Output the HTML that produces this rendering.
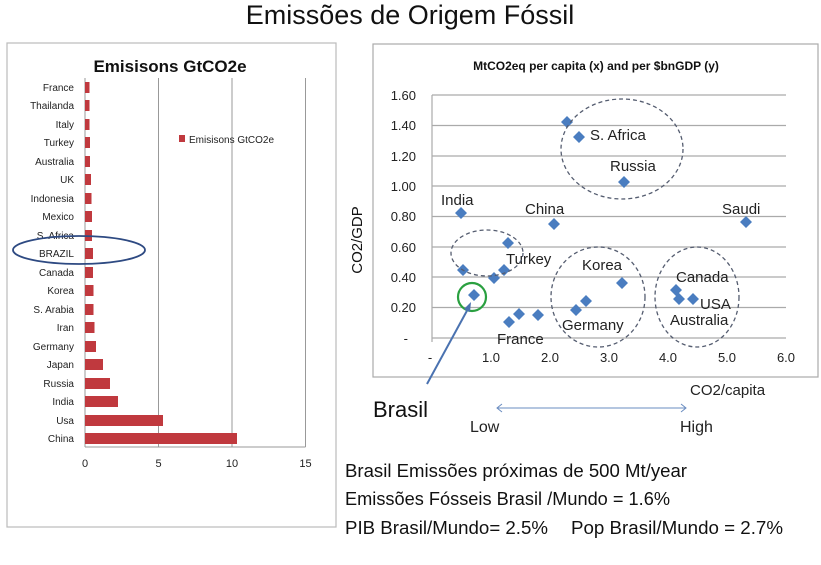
<!DOCTYPE html>
<html><head><meta charset="utf-8"><style>
body{margin:0;background:#fff;}
svg{display:block;font-family:"Liberation Sans",sans-serif;}
</style></head><body>
<svg width="821" height="565" viewBox="0 0 821 565" xmlns="http://www.w3.org/2000/svg">
<rect width="821" height="565" fill="#fff"/>
<text x="410" y="24" font-size="27" text-anchor="middle" fill="#111">Emissões de Origem Fóssil</text>
<rect x="7" y="43" width="329" height="484" fill="#fff" stroke="#bbb" stroke-width="1.2"/>
<text x="170" y="72" font-size="17" font-weight="bold" text-anchor="middle" fill="#111">Emisisons GtCO2e</text>
<g stroke="#999" stroke-width="1">
<line x1="158.5" y1="78" x2="158.5" y2="447"/>
<line x1="232" y1="78" x2="232" y2="447"/>
<line x1="305.5" y1="78" x2="305.5" y2="447"/>
<line x1="85" y1="78" x2="85" y2="447"/>
<line x1="85" y1="447" x2="305.5" y2="447"/>
</g>
<g font-size="10" fill="#222" text-anchor="end">
<text x="74" y="91">France</text><text x="74" y="109">Thailanda</text><text x="74" y="128">Italy</text><text x="74" y="146">Turkey</text><text x="74" y="165">Australia</text><text x="74" y="183">UK</text><text x="74" y="202">Indonesia</text><text x="74" y="220">Mexico</text><text x="74" y="239">S. Africa</text><text x="74" y="257">BRAZIL</text><text x="74" y="276">Canada</text><text x="74" y="294">Korea</text><text x="74" y="313">S. Arabia</text><text x="74" y="331">Iran</text><text x="74" y="350">Germany</text><text x="74" y="368">Japan</text><text x="74" y="387">Russia</text><text x="74" y="405">India</text><text x="74" y="424">Usa</text><text x="74" y="442">China</text>
</g>
<g fill="#c0393e">
<rect x="85" y="82" width="4.5" height="11"/><rect x="85" y="100" width="4.5" height="11"/><rect x="85" y="119" width="4.5" height="11"/><rect x="85" y="137" width="5" height="11"/><rect x="85" y="156" width="5" height="11"/><rect x="85" y="174" width="6" height="11"/><rect x="85" y="193" width="6.5" height="11"/><rect x="85" y="211" width="7" height="11"/><rect x="85" y="230" width="7" height="11"/><rect x="85" y="248" width="8" height="11"/><rect x="85" y="267" width="8" height="11"/><rect x="85" y="285" width="8.5" height="11"/><rect x="85" y="304" width="8.5" height="11"/><rect x="85" y="322" width="9.5" height="11"/><rect x="85" y="341" width="11" height="11"/><rect x="85" y="359" width="18" height="11"/><rect x="85" y="378" width="25" height="11"/><rect x="85" y="396" width="33" height="11"/><rect x="85" y="415" width="78" height="11"/><rect x="85" y="433" width="152" height="11"/>
</g>
<g font-size="11" fill="#222" text-anchor="middle">
<text x="85" y="467">0</text><text x="158.5" y="467">5</text><text x="232" y="467">10</text><text x="305.5" y="467">15</text>
</g>
<rect x="179" y="135" width="6" height="7" fill="#c0393e"/>
<text x="189" y="143" font-size="10" fill="#222">Emisisons GtCO2e</text>
<ellipse cx="79" cy="250" rx="66" ry="14" fill="none" stroke="#2e4a82" stroke-width="1.8"/>
<rect x="373" y="44" width="445" height="333" fill="#fff" stroke="#aaa" stroke-width="1.2"/>
<text x="596" y="70" font-size="12" font-weight="bold" text-anchor="middle" fill="#111">MtCO2eq per capita (x) and per $bnGDP (y)</text>
<g stroke="#aaa" stroke-width="1.2">
<line x1="432" y1="95" x2="786" y2="95"/><line x1="432" y1="125.5" x2="786" y2="125.5"/><line x1="432" y1="156" x2="786" y2="156"/><line x1="432" y1="186" x2="786" y2="186"/><line x1="432" y1="216.5" x2="786" y2="216.5"/><line x1="432" y1="247" x2="786" y2="247"/><line x1="432" y1="277" x2="786" y2="277"/><line x1="432" y1="307.5" x2="786" y2="307.5"/><line x1="432" y1="338" x2="786" y2="338"/>
<line x1="432" y1="95" x2="432" y2="342"/>
</g>
<g font-size="13" fill="#222" text-anchor="end">
<text x="416" y="100">1.60</text><text x="416" y="130">1.40</text><text x="416" y="161">1.20</text><text x="416" y="191">1.00</text><text x="416" y="221">0.80</text><text x="416" y="252">0.60</text><text x="416" y="282">0.40</text><text x="416" y="312">0.20</text><text x="408" y="343">-</text>
</g>
<g font-size="13" fill="#222" text-anchor="middle">
<text x="430" y="362">-</text><text x="491" y="362">1.0</text><text x="550" y="362">2.0</text><text x="609" y="362">3.0</text><text x="668" y="362">4.0</text><text x="727" y="362">5.0</text><text x="786" y="362">6.0</text>
</g>
<text transform="translate(362,240) rotate(-90)" font-size="15" text-anchor="middle" fill="#111">CO2/GDP</text>
<g fill="#4a7dc0">
<path d="M567 116l6 6-6 6-6-6z M579 131l6 6-6 6-6-6z M624 176l6 6-6 6-6-6z M461 207l6 6-6 6-6-6z M554 218l6 6-6 6-6-6z M746 216l6 6-6 6-6-6z M508 237l6 6-6 6-6-6z M463 264l6 6-6 6-6-6z M504 264l6 6-6 6-6-6z M494 272l6 6-6 6-6-6z M474 289l6 6-6 6-6-6z M622 277l6 6-6 6-6-6z M586 295l6 6-6 6-6-6z M576 304l6 6-6 6-6-6z M509 316l6 6-6 6-6-6z M519 308l6 6-6 6-6-6z M538 309l6 6-6 6-6-6z M676 284l6 6-6 6-6-6z M679 293l6 6-6 6-6-6z M693 293l6 6-6 6-6-6z"/>
</g>
<g font-size="15" fill="#222">
<text x="590" y="140">S. Africa</text><text x="610" y="171">Russia</text><text x="441" y="205">India</text><text x="525" y="214">China</text><text x="722" y="214">Saudi</text><text x="506" y="264">Turkey</text><text x="582" y="270">Korea</text><text x="676" y="282">Canada</text><text x="700" y="309">USA</text><text x="670" y="325">Australia</text><text x="562" y="330">Germany</text><text x="497" y="344">France</text>
</g>
<g fill="none" stroke="#555d70" stroke-width="1.3" stroke-dasharray="4,3">
<ellipse cx="622" cy="149" rx="61" ry="50"/><ellipse cx="487" cy="253" rx="36" ry="23"/><ellipse cx="598" cy="297" rx="47" ry="50"/><ellipse cx="697" cy="297" rx="42" ry="50"/>
</g>
<circle cx="472" cy="297" r="14" fill="none" stroke="#2aa040" stroke-width="2.2"/>
<line x1="427" y1="384" x2="469" y2="307" stroke="#4a72b0" stroke-width="2"/>
<path d="M471 302l-1 10-6-3z" fill="#4a72b0"/>
<text x="690" y="395" font-size="15" fill="#222">CO2/capita</text>
<text x="373" y="417" font-size="22" fill="#111">Brasil</text>
<line x1="497" y1="408" x2="686" y2="408" stroke="#6a8cc0" stroke-width="1"/>
<path d="M502 404l-5 4 5 4 M681 404l5 4-5 4" fill="none" stroke="#6a8cc0" stroke-width="1"/>
<text x="470" y="432" font-size="16" fill="#222">Low</text>
<text x="680" y="432" font-size="16" fill="#222">High</text>
<g font-size="18" fill="#111">
<text x="345" y="477" textLength="342" lengthAdjust="spacingAndGlyphs">Brasil Emissões próximas de 500 Mt/year</text>
<text x="345" y="505" textLength="325" lengthAdjust="spacingAndGlyphs">Emissões Fósseis Brasil /Mundo = 1.6%</text>
<text x="345" y="534" textLength="203" lengthAdjust="spacingAndGlyphs">PIB Brasil/Mundo= 2.5%</text>
<text x="571" y="534" textLength="212" lengthAdjust="spacingAndGlyphs">Pop Brasil/Mundo = 2.7%</text>
</g>
</svg>
</body></html>
